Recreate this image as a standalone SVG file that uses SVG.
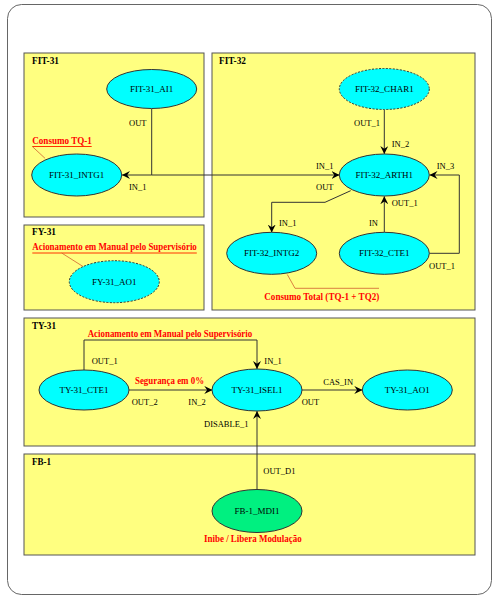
<svg xmlns="http://www.w3.org/2000/svg" width="500" height="601" viewBox="0 0 500 601">
<style>
.panel{fill:#ffff80;stroke:#555;stroke-width:1}
.node{fill:#00ffff;stroke:#333;stroke-width:1}
.dot{stroke-dasharray:2,1.5}
.green{fill:#00f080}
.nl{font-family:"Liberation Serif",serif;font-size:9px;fill:#000;text-anchor:middle}
.pl{font-family:"Liberation Serif",serif;font-size:8.5px;fill:#000}
.tt{font-family:"Liberation Serif",serif;font-size:11px;font-weight:bold;fill:#000}
.rl{font-family:"Liberation Serif",serif;font-size:11px;font-weight:bold;fill:#ff0000}
.ed{fill:none;stroke:#333;stroke-width:1}
.ul{fill:none;stroke:#ff3300;stroke-width:1}
.ld{fill:none;stroke:#d06030;stroke-width:0.8}
</style>
<defs>
<marker id="ar" viewBox="0 0 10 10" refX="10" refY="5" markerWidth="8" markerHeight="8" markerUnits="userSpaceOnUse" orient="auto">
<path d="M0,0 L10,5 L0,10 L3.5,5 z" fill="#000"/>
</marker>
</defs>
<rect x="0" y="0" width="500" height="601" fill="#fff"/>
<rect x="7.5" y="4.5" width="484" height="590" rx="14" fill="#fff" stroke="#666" stroke-width="1"/>

<g id="panel-FIT-31"><rect class="panel" x="24" y="53" width="180" height="164"/><text class="tt" x="32" y="63.5" textLength="27" lengthAdjust="spacingAndGlyphs">FIT-31</text></g>
<g id="panel-FIT-32"><rect class="panel" x="212" y="53" width="263" height="257"/><text class="tt" x="219" y="63.5" textLength="27" lengthAdjust="spacingAndGlyphs">FIT-32</text></g>
<g id="panel-FY-31"><rect class="panel" x="24" y="225" width="180" height="85"/><text class="tt" x="32" y="235" textLength="24" lengthAdjust="spacingAndGlyphs">FY-31</text></g>
<g id="panel-TY-31"><rect class="panel" x="24" y="318" width="451" height="128"/><text class="tt" x="32" y="329" textLength="24" lengthAdjust="spacingAndGlyphs">TY-31</text></g>
<g id="panel-FB-1"><rect class="panel" x="24" y="454" width="451" height="101"/><text class="tt" x="32" y="465" textLength="19" lengthAdjust="spacingAndGlyphs">FB-1</text></g>

<g id="connectors">
<path class="ed" d="M151.7,109 V175 H122" marker-end="url(#ar)"/>
<path class="ed" d="M151.7,175 H339.5" marker-end="url(#ar)"/>
<path class="ed" d="M384.3,110 V154" marker-end="url(#ar)"/>
<path class="ed" d="M350.7,190.7 L325,202.3 H271.7 V232.5" marker-end="url(#ar)"/>
<path class="ed" d="M384.3,232 V196.3" marker-end="url(#ar)"/>
<path class="ed" d="M429.3,253.3 H459.3 V175 H429.5" marker-end="url(#ar)"/>
<path class="ed" d="M84,370 V340 H257 V369" marker-end="url(#ar)"/>
<path class="ed" d="M129,390 H212.3" marker-end="url(#ar)"/>
<path class="ed" d="M301.7,390 H362.3" marker-end="url(#ar)"/>
<path class="ed" d="M257,489.5 V411" marker-end="url(#ar)"/>
<text class="pl" x="129" y="126">OUT</text>
<text class="pl" x="129" y="190">IN_1</text>
<text class="pl" x="316" y="169">IN_1</text>
<text class="pl" x="316" y="190">OUT</text>
<text class="pl" x="354" y="126">OUT_1</text>
<text class="pl" x="391.7" y="147">IN_2</text>
<text class="pl" x="436.7" y="169">IN_3</text>
<text class="pl" x="391.7" y="205.5">OUT_1</text>
<text class="pl" x="279" y="226">IN_1</text>
<text class="pl" x="369" y="226">IN</text>
<text class="pl" x="429" y="269">OUT_1</text>
<text class="pl" x="91.7" y="363.5">OUT_1</text>
<text class="pl" x="264.3" y="363.5">IN_1</text>
<text class="pl" x="131.7" y="404.5">OUT_2</text>
<text class="pl" x="188.3" y="404.5">IN_2</text>
<text class="pl" x="323.3" y="384.5">CAS_IN</text>
<text class="pl" x="301.7" y="404.5">OUT</text>
<text class="pl" x="204" y="427">DISABLE_1</text>
<text class="pl" x="263.3" y="473.5">OUT_D1</text>
</g>

<g id="FIT-31_AI1"><ellipse class="node" cx="151.7" cy="89" rx="45" ry="19.5"/><text class="nl" x="151.7" y="92">FIT-31_AI1</text></g>
<g id="FIT-31_INTG1"><ellipse class="node" cx="76.7" cy="175" rx="45" ry="21"/><text class="nl" x="76.7" y="178">FIT-31_INTG1</text></g>
<g id="FIT-32_CHAR1"><ellipse class="node dot" cx="384.3" cy="89" rx="45" ry="20.5"/><text class="nl" x="384.3" y="92">FIT-32_CHAR1</text></g>
<g id="FIT-32_ARTH1"><ellipse class="node" cx="384.3" cy="175" rx="45" ry="21"/><text class="nl" x="384.3" y="178">FIT-32_ARTH1</text></g>
<g id="FIT-32_INTG2"><ellipse class="node" cx="271.7" cy="253.3" rx="45" ry="21"/><text class="nl" x="271.7" y="256.3">FIT-32_INTG2</text></g>
<g id="FIT-32_CTE1"><ellipse class="node" cx="384.3" cy="253.3" rx="45" ry="21"/><text class="nl" x="384.3" y="256.3">FIT-32_CTE1</text></g>
<g id="FY-31_AO1"><ellipse class="node dot" cx="114.3" cy="281.7" rx="45" ry="21"/><text class="nl" x="114.3" y="284.7">FY-31_AO1</text></g>
<g id="TY-31_CTE1"><ellipse class="node" cx="84" cy="390" rx="45" ry="20"/><text class="nl" x="84" y="393">TY-31_CTE1</text></g>
<g id="TY-31_ISEL1"><ellipse class="node" cx="257" cy="390" rx="45" ry="21"/><text class="nl" x="257" y="393">TY-31_ISEL1</text></g>
<g id="TY-31_AO1"><ellipse class="node" cx="407.3" cy="390" rx="45" ry="20"/><text class="nl" x="407.3" y="393">TY-31_AO1</text></g>
<g id="FB-1_MDI1"><ellipse class="node green" cx="257" cy="511" rx="45" ry="21.5"/><text class="nl" x="257" y="514">FB-1_MDI1</text></g>

<g id="annotations">
<text class="rl" x="32.3" y="144" textLength="59.5" lengthAdjust="spacingAndGlyphs">Consumo TQ-1</text>
<path class="ul" d="M32.3,146.5 H91.7"/>
<path class="ld" d="M32.3,146.5 L45,158.3"/>
<text class="rl" x="264.3" y="300" textLength="115" lengthAdjust="spacingAndGlyphs">Consumo Total (TQ-1 + TQ2)</text>
<path class="ld" d="M287.3,274.5 L295,288.3 H379"/>
<text class="rl" x="32.3" y="249.5" textLength="164.5" lengthAdjust="spacingAndGlyphs">Acionamento em Manual pelo Supervisório</text>
<path class="ul" d="M32.3,253 H196.8"/>
<path class="ld" d="M61.7,253 L83.3,266.7"/>
<text class="rl" x="87.7" y="336.5" textLength="164.5" lengthAdjust="spacingAndGlyphs">Acionamento em Manual pelo Supervisório</text>
<text class="rl" x="135" y="384" textLength="69" lengthAdjust="spacingAndGlyphs">Segurança em 0%</text>
<text class="rl" x="204" y="542" textLength="97.7" lengthAdjust="spacingAndGlyphs">Inibe / Libera Modulação</text>
</g>
</svg>
